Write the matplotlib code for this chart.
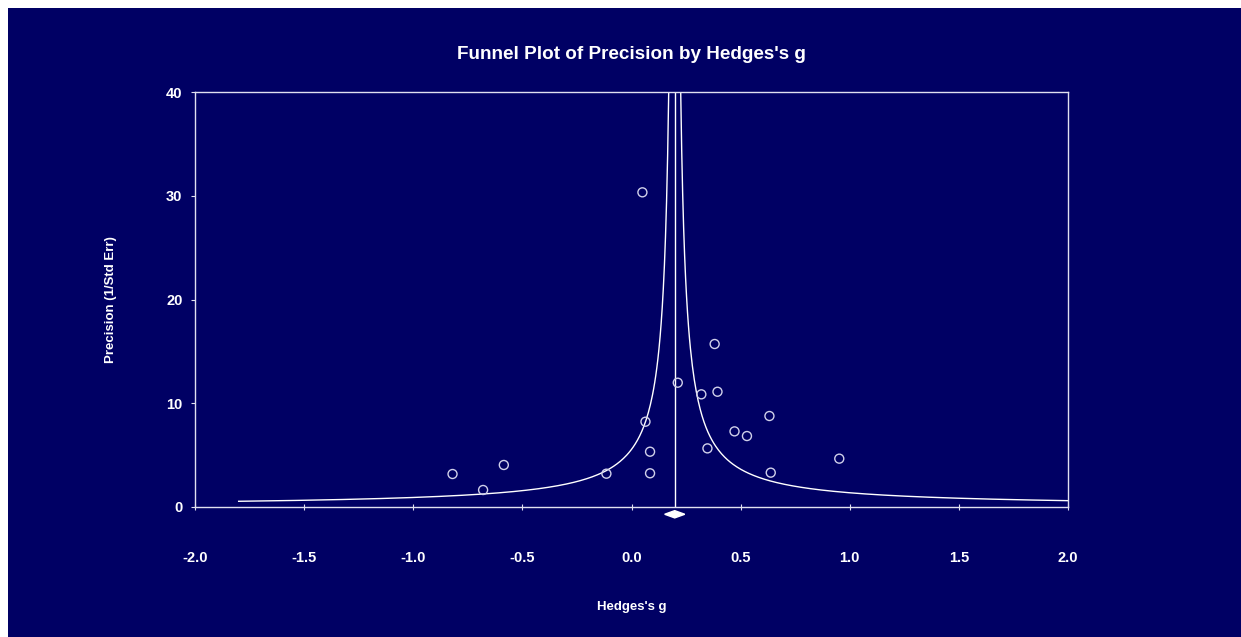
import numpy as np
import matplotlib
matplotlib.use('Agg')
import matplotlib.pyplot as plt
from matplotlib.patches import Rectangle, Polygon

# study effects (Hedges's g) and precision (1/SE)
g = [-0.82, -0.68, -0.585, -0.115, 0.05, 0.064, 0.085, 0.085, 0.212,
     0.32, 0.381, 0.394, 0.348, 0.472, 0.529, 0.632, 0.638, 0.952]
prec = [3.18, 1.64, 4.05, 3.21, 30.33, 8.22, 5.33, 3.25, 11.98,
        10.86, 15.71, 11.11, 5.65, 7.29, 6.84, 8.77, 3.31, 4.66]

mean_g = 0.198           # summary effect
ci = [0.152, 0.244]      # summary diamond
k = 1.1                  # funnel width factor

xticks = [-2.0, -1.5, -1.0, -0.5, 0.0, 0.5, 1.0, 1.5, 2.0]
yticks = [0, 10, 20, 30, 40]

navy = '#000064'
plt.rcParams['font.family'] = ['Liberation Sans', 'DejaVu Sans']
plt.rcParams['font.weight'] = 'bold'

fig = plt.figure(figsize=(12.41, 6.37), dpi=100, facecolor='white')
fig.patches.append(Rectangle((8 / 1241, 0), 1, 1 - 8 / 637, transform=fig.transFigure,
                             facecolor=navy, edgecolor='none', zorder=-10))

ax = fig.add_axes([195 / 1241, 1 - 507 / 637, (1068 - 195) / 1241, (507 - 92) / 637])
ax.set_facecolor(navy)
for s in ax.spines.values():
    s.set_color('#e0e0f0')
    s.set_linewidth(1)

# funnel
xl = np.linspace(-1.8, mean_g - k / 40, 400)
xr = np.linspace(mean_g + k / 40, 2.0, 400)
ax.plot(xl, k / (mean_g - xl), color='white', lw=1)
ax.plot(xr, k / (xr - mean_g), color='white', lw=1)
ax.plot([mean_g, mean_g], [0, 40], color='white', lw=1)

ax.scatter(g, prec, s=42, facecolors='none', edgecolors='#d0d0ea', linewidths=1, zorder=3)

# summary diamond
ax.add_patch(Polygon([[ci[0], -0.7], [mean_g, -0.35], [ci[1], -0.7], [mean_g, -1.05]],
                     closed=True, facecolor='white', edgecolor='white', clip_on=False))

ax.set_xlim(-2.0, 2.0)
ax.set_ylim(0, 40)
ax.set_xticks(xticks)
ax.set_xticklabels(['%.1f' % v for v in xticks])
ax.set_yticks(yticks)
ax.tick_params(axis='x', direction='inout', length=5, color='#e0e0f0', labelcolor='white',
               labelsize=10.5, pad=29)
ax.tick_params(axis='y', direction='out', length=3, color='#e0e0f0', labelcolor='white',
               labelsize=10.5, pad=6)

ax.set_title("Funnel Plot of Precision by Hedges's g", color='white', fontsize=13.6,
             fontweight='bold', pad=24)
ax.set_xlabel("Hedges's g", color='white', fontsize=9.5, fontweight='bold', labelpad=26)
ax.set_ylabel('Precision (1/Std Err)', color='white', fontsize=9.5, fontweight='bold', labelpad=35)

fig.savefig('out.png', dpi=100, facecolor=fig.get_facecolor())
